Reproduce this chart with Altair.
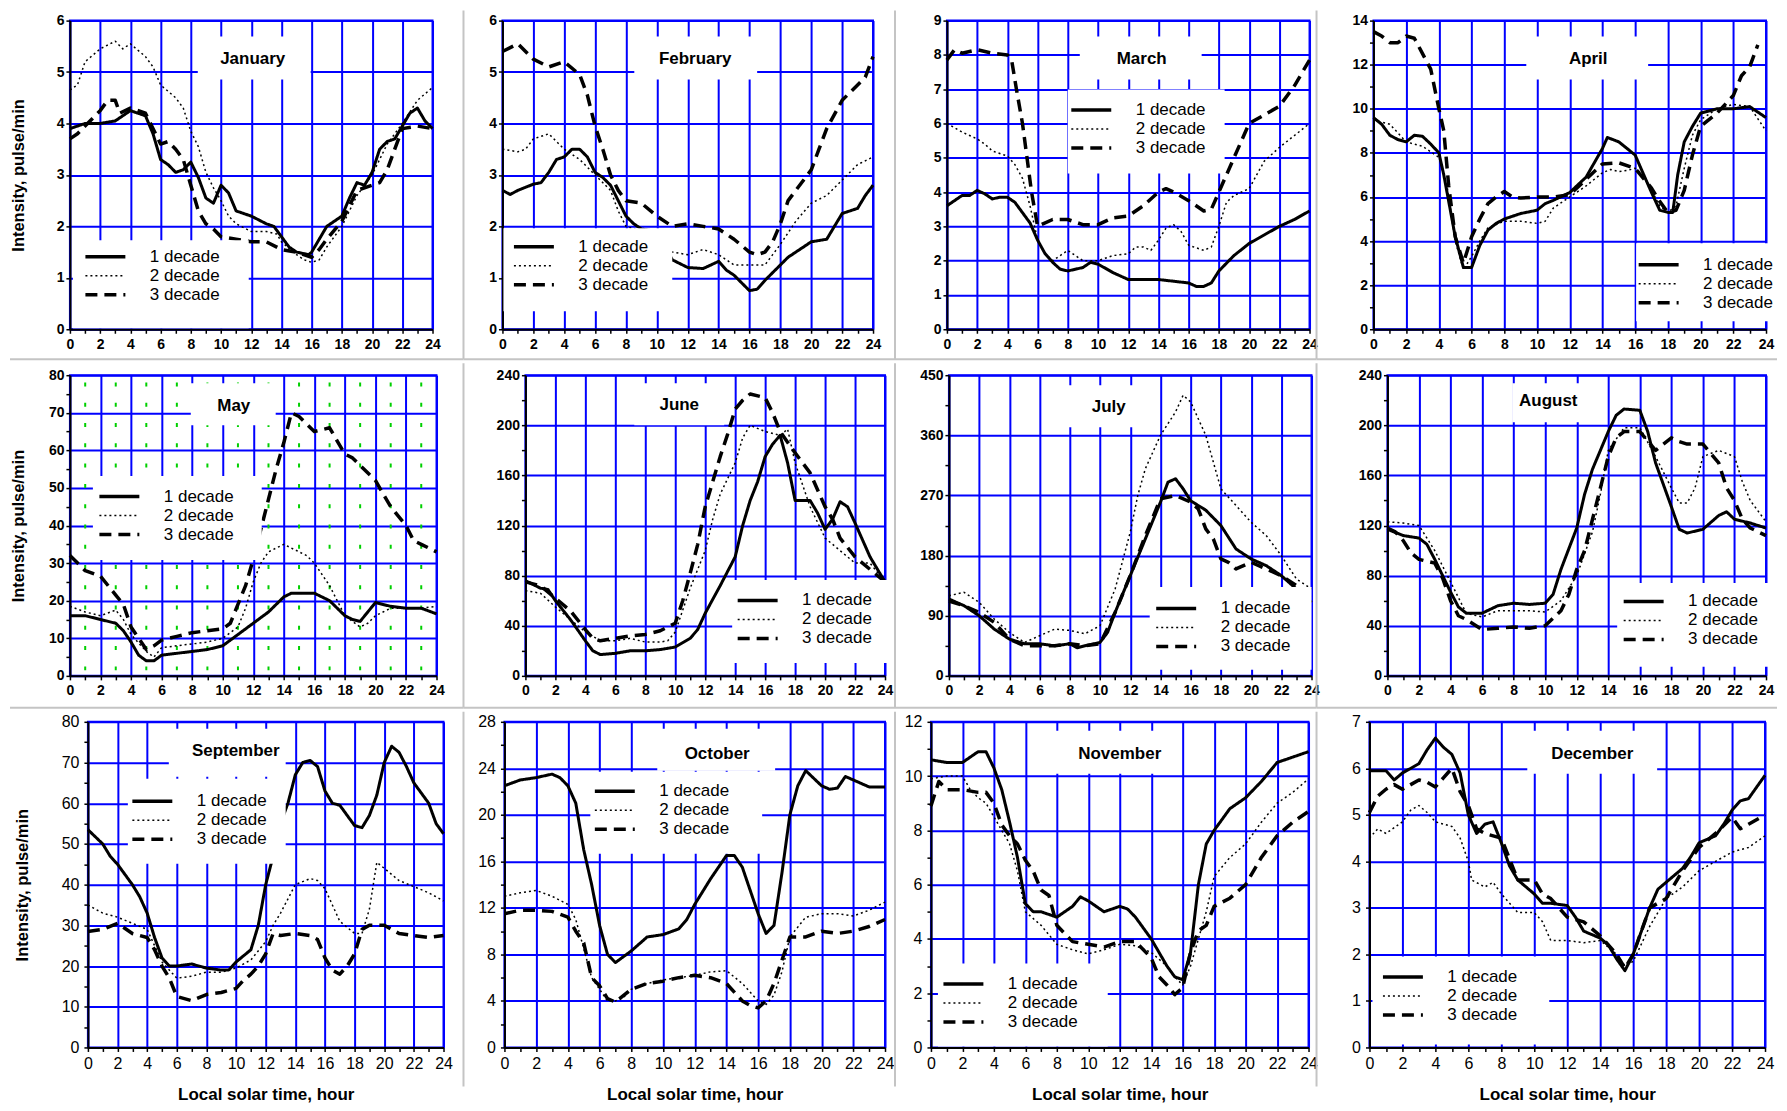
import altair as alt
import pandas as pd

FONT = "Liberation Sans"
BLUE = "#0000ff"
GREEN = "#00d000"
GRAY = "#c4c4c4"

MONTHS = ["January", "February", "March", "April", "May", "June",
          "July", "August", "September", "October", "November", "December"]
DECADES = ["1 decade", "2 decade", "3 decade"]
Y_TITLE = "Intensity, pulse/min"
X_TITLE = "Local solar time, hour"

Y_MAX = [6, 6, 9, 14, 80, 240, 450, 240, 80, 28, 12, 7]
Y_STEP = [1, 1, 1, 2, 10, 40, 90, 40, 10, 4, 2, 1]

# ---------------- data: [hour, intensity] ----------------
JAN_1 = [[0,3.9],[1,4.0],[2,4.0],[3,4.05],[4,4.25],[4.5,4.2],[5,4.15],[5.5,3.8],[6,3.3],[6.5,3.2],[7,3.05],[7.5,3.1],[8,3.25],[8.5,2.95],[9,2.55],[9.5,2.45],[10,2.8],[10.5,2.65],[11,2.3],[12,2.2],[13,2.05],[13.5,2.0],[14,1.8],[14.5,1.6],[15,1.5],[15.8,1.45],[16,1.5],[16.5,1.75],[17,2.0],[18,2.2],[18.5,2.55],[19,2.85],[19.5,2.8],[20,3.05],[20.5,3.5],[21,3.65],[21.5,3.7],[22,3.95],[22.5,4.2],[23,4.3],[23.5,4.05],[24,3.9]]
JAN_2 = [[0,4.65],[0.5,4.75],[1,5.2],[2,5.45],[3,5.6],[3.5,5.45],[4,5.55],[5,5.3],[5.5,5.1],[6,4.75],[7,4.5],[7.5,4.3],[8,3.85],[8.5,3.55],[9,3.05],[9.5,2.75],[10,2.5],[10.5,2.2],[11,2.05],[12,1.9],[13,1.9],[13.7,1.85],[14,1.7],[15,1.45],[15.5,1.35],[16,1.3],[16.5,1.35],[17,1.6],[18,2.0],[19,2.6],[20,3.0],[21,3.6],[22,4.0],[23,4.45],[24,4.7]]
JAN_3 = [[0,3.7],[0.5,3.8],[1,3.95],[2,4.25],[2.5,4.45],[3,4.45],[3.3,4.2],[4,4.3],[5,4.2],[6,3.6],[6.5,3.65],[7,3.5],[7.5,3.3],[8,2.8],[8.5,2.3],[9,2.05],[9.5,1.95],[10,1.8],[11,1.75],[12,1.7],[13,1.7],[14,1.55],[15,1.5],[16,1.4],[16.5,1.55],[17,1.75],[18,2.1],[19,2.7],[20,2.8],[20.5,2.85],[21,3.1],[21.5,3.5],[22,3.9],[23,3.95],[24,3.9]]

FEB_1 = [[0,2.7],[0.5,2.62],[1,2.7],[2,2.82],[2.5,2.85],[3,3.05],[3.5,3.3],[4,3.35],[4.5,3.5],[5,3.5],[5.5,3.35],[6,3.05],[6.5,2.95],[7,2.8],[7.5,2.5],[8,2.2],[8.5,2.05],[9,1.95],[10,1.9],[11,1.35],[12,1.2],[13,1.18],[14,1.32],[14.5,1.15],[15,1.05],[15.5,0.9],[16,0.75],[16.5,0.78],[17,0.95],[18,1.25],[18.5,1.4],[19,1.5],[20,1.7],[21,1.75],[21.5,2.0],[22,2.25],[23,2.35],[23.5,2.6],[24,2.8]]
FEB_2 = [[0,3.5],[1,3.45],[1.5,3.5],[2,3.7],[3,3.8],[3.5,3.65],[4,3.5],[5,3.3],[6,3.0],[7,2.7],[7.5,2.3],[8,2.0],[9,1.9],[10,1.6],[11,1.5],[12,1.45],[13,1.55],[14,1.45],[15,1.25],[16,1.25],[17,1.25],[17.5,1.45],[18,1.65],[19,2.1],[20,2.45],[21,2.6],[22,2.9],[23,3.2],[24,3.35]]
FEB_3 = [[0,5.4],[1,5.55],[2,5.25],[3,5.1],[4,5.2],[5,4.95],[5.5,4.55],[6,3.95],[6.5,3.5],[7,3.0],[7.5,2.7],[8,2.5],[9,2.45],[10,2.2],[11,2.0],[12,2.05],[13,2.0],[14,1.95],[15,1.75],[16,1.5],[16.5,1.45],[17,1.5],[17.5,1.7],[18,2.05],[18.5,2.5],[19,2.7],[20,3.1],[20.5,3.5],[21,3.9],[22,4.45],[23,4.75],[23.5,4.9],[24,5.3]]

MAR_1 = [[0,3.6],[0.5,3.75],[1,3.9],[1.5,3.9],[2,4.05],[2.5,3.95],[3,3.8],[3.5,3.85],[4,3.85],[4.5,3.7],[5,3.4],[5.5,3.1],[6,2.6],[6.5,2.2],[7,1.95],[7.5,1.75],[8,1.7],[8.5,1.75],[9,1.8],[9.5,1.95],[10,1.9],[11,1.65],[12,1.45],[13,1.45],[14,1.45],[15,1.4],[16,1.35],[16.5,1.25],[17,1.25],[17.5,1.35],[18,1.7],[19,2.15],[20,2.5],[21,2.75],[22,3.0],[23,3.2],[24,3.45]]
MAR_2 = [[0,6.0],[1,5.75],[2,5.55],[2.5,5.4],[3,5.2],[4,5.05],[4.5,4.8],[5,4.4],[5.5,3.6],[6,2.6],[6.5,2.2],[7,2.0],[7.5,2.15],[8,2.3],[8.5,2.15],[9,2.0],[10,2.0],[11,2.15],[12,2.2],[12.5,2.4],[13,2.4],[13.5,2.3],[14,2.6],[14.5,2.95],[15,3.05],[15.5,2.85],[16,2.45],[17,2.3],[17.5,2.4],[18,3.0],[18.5,3.7],[19,3.9],[20,4.1],[20.5,4.5],[21,4.9],[22,5.3],[23,5.65],[24,6.0]]
MAR_3 = [[0,7.85],[0.5,8.15],[1,8.05],[2,8.15],[3,8.05],[4,8.0],[4.3,7.8],[4.6,7.0],[5,6.0],[5.3,5.0],[5.6,4.0],[6,3.0],[7,3.2],[8,3.2],[9,3.05],[10,3.05],[11,3.25],[12,3.3],[13,3.6],[14,4.0],[14.5,4.1],[15,4.0],[16,3.75],[17,3.45],[17.5,3.5],[18,4.0],[18.5,4.5],[19,5.0],[20,6.0],[21,6.25],[22,6.5],[23,7.1],[24,7.85]]

APR_1 = [[0,9.6],[0.5,9.3],[1,8.8],[1.5,8.6],[2,8.5],[2.5,8.8],[3,8.75],[3.5,8.4],[4,8.0],[4.3,7.0],[4.6,5.8],[5,4.2],[5.5,2.8],[6,2.8],[6.5,3.8],[7,4.5],[7.5,4.8],[8,5.0],[9,5.25],[10,5.4],[10.5,5.7],[11,5.85],[12,6.2],[13,6.9],[14,8.2],[14.3,8.7],[15,8.5],[16,7.9],[17,6.2],[17.5,5.4],[18,5.3],[18.3,5.3],[18.6,7.0],[19,8.5],[19.5,9.2],[20,9.8],[21,10.0],[22,10.0],[23,10.1],[24,9.6]]
APR_2 = [[0,9.5],[1,9.3],[2,8.5],[3,8.3],[4,7.8],[4.5,6.5],[5,4.0],[5.5,2.7],[6,3.3],[6.5,4.0],[7,4.6],[8,4.9],[9,4.9],[10,4.8],[10.5,4.9],[11,5.5],[12,6.0],[13,6.5],[14,7.1],[14.5,7.25],[15,7.15],[15.5,7.2],[16,7.3],[16.5,7.0],[17,6.3],[17.5,5.6],[18,5.3],[18.5,5.6],[19,7.3],[19.5,8.8],[20,9.5],[21,10.0],[22,10.2],[23,10.1],[24,9.0]]
APR_3 = [[0,13.5],[0.5,13.3],[1,13.0],[1.5,13.0],[2,13.3],[2.5,13.2],[3,12.5],[3.5,11.8],[4,10.0],[4.3,9.0],[4.6,6.5],[5,4.2],[5.5,3.0],[6,4.2],[6.5,5.0],[7,5.7],[7.5,6.0],[8,6.25],[8.5,6.0],[9,5.95],[10,6.0],[11,6.0],[12,6.1],[13,6.8],[14,7.5],[15,7.55],[16,7.3],[17,6.4],[17.5,5.8],[18,5.3],[18.5,5.4],[19,6.3],[19.5,7.9],[20,9.2],[21,9.8],[22,10.6],[22.5,11.5],[23,11.9],[23.5,12.9]]

MAY_1 = [[0,16],[1,16],[2,15],[3,14],[3.5,12],[4,9],[4.5,5.5],[5,4],[5.5,4],[6,5.5],[7,6],[8,6.5],[9,7],[10,8],[11,11],[12,14],[13,17],[14,21],[14.5,22],[15,22],[16,22],[17,20],[18,16],[18.5,15],[19,14.5],[19.5,17],[20,19.5],[21,18.5],[22,18],[23,18],[24,16.5]]
MAY_2 = [[0,18.5],[1,17],[2,16],[3,17.5],[3.5,15],[4,11],[5,6.5],[5.5,5],[6,7.5],[7,8],[8,8.5],[9,9],[10,10],[11,13],[11.5,18],[12,25],[12.5,30],[13,33],[14,35],[15,33],[15.5,32],[16,30],[17,24],[17.5,20],[18,16],[19,13],[19.5,14],[20,16],[21,18],[22,18],[23,18],[24,18.5]]
MAY_3 = [[0,32],[0.5,30],[1,28],[2,26.5],[3,21.5],[3.5,19],[4,13],[4.5,10],[5,7],[5.5,8],[6,9.5],[7,10.5],[8,11.5],[9,12],[10,12.5],[10.5,14],[11,19],[11.5,24],[12,31],[12.5,39],[13,47],[13.5,55],[14,62],[14.5,70],[15,69],[15.5,67],[16,65],[17,66],[18,59],[18.5,58],[19,56],[20,52],[21,45],[22,40],[22.5,36],[23,35],[24,33]]

JUN_1 = [[0,76],[1,70],[1.5,69],[2,60],[3,45],[4,28],[4.5,20],[5,17],[6,18],[7,20],[8,20],[9,21],[10,23],[11,30],[11.5,37],[12,50],[13,72],[14,95],[14.5,120],[15,140],[15.5,155],[16,175],[16.5,185],[17,192],[17.5,170],[18,140],[19,140],[19.5,130],[20,117],[20.5,125],[21,139],[21.5,135],[22,122],[23,95],[24,75]]
JUN_2 = [[0,68],[1,66],[2,55],[3,45],[4,35],[5,28],[6,28],[7,30],[8,27],[9,27],[9.5,28],[10,35],[11,70],[12,100],[12.5,125],[13,145],[14,170],[14.5,190],[15,200],[16,195],[17,192],[17.5,197],[18,170],[19,135],[20,110],[21,100],[22,90],[23,90],[24,75]]
JUN_3 = [[0,75],[1,72],[2,62],[3,52],[4,37],[4.5,30],[5,28],[6,30],[7,32],[8,33],[9,36],[10,42],[10.5,60],[11,82],[11.5,105],[12,135],[12.5,155],[13,175],[13.5,193],[14,213],[14.5,220],[15,225],[16,222],[16.5,210],[17,195],[18,178],[19,162],[20,135],[20.5,125],[21,110],[22,95],[23,85],[24,75]]

JUL_1 = [[0,115],[1,105],[2,90],[3,70],[4,55],[5,48],[6,48],[7,45],[8,48],[8.5,42],[9,45],[10,50],[10.5,65],[11,95],[12,150],[13,205],[14,260],[14.5,290],[15,295],[15.5,280],[16,262],[17,248],[18,225],[19,190],[20,175],[21,165],[22,150],[23,130],[24,110]]
JUL_2 = [[0,120],[1,125],[2,110],[3,85],[4,65],[5,50],[6,60],[7,70],[8,68],[9,63],[10,75],[11,130],[12,215],[12.5,270],[13,310],[14,360],[15,395],[15.5,420],[16,410],[17,360],[18,280],[19,255],[20,230],[21,210],[22,180],[23,145],[24,130]]
JUL_3 = [[0,112],[1,105],[2,95],[3,80],[4,55],[5,45],[6,45],[7,45],[8,48],[9,45],[10,48],[11,95],[12,150],[13,210],[14,265],[15,270],[16,260],[16.5,250],[17,220],[17.5,205],[18,175],[18.5,170],[19,160],[20,170],[21,160],[22,150],[23,135],[24,115]]

AUG_1 = [[0,117],[1,112],[2,110],[2.5,105],[3,93],[4,67],[4.5,55],[5,50],[6,50],[7,56],[8,58],[9,57],[10,58],[10.5,65],[11,85],[12,118],[12.5,145],[13,165],[14,195],[14.5,208],[15,213],[16,212],[16.5,195],[17,170],[18,135],[18.5,117],[19,114],[20,117],[21,128],[21.5,131],[22,125],[23,122],[24,118]]
AUG_2 = [[0,123],[1,122],[2,120],[3,100],[4,75],[5,50],[6,47],[7,52],[8,52],[9,52],[10,51],[11,60],[12,80],[13,115],[13.5,145],[14,180],[15,198],[16,198],[17,175],[18,150],[18.5,138],[19,138],[19.5,150],[20,175],[21,180],[22,175],[22.5,155],[23,140],[24,123]]
AUG_3 = [[0,118],[0.5,115],[1,108],[1.5,98],[2,93],[3,90],[3.5,78],[4,60],[4.5,48],[5,45],[6,37],[7,38],[8,39],[9,38],[10,40],[11,52],[11.5,65],[12,85],[12.5,100],[13,125],[13.5,150],[14,175],[14.5,190],[15,195],[16,195],[17,180],[18,190],[18.5,187],[19,185],[20,185],[21,170],[21.5,150],[22,140],[22.5,125],[23,118],[24,112]]

SEP_1 = [[0,53.5],[1,50],[1.5,47],[2,45],[3,40],[3.5,37],[4,33],[4.5,27],[5,22],[5.5,20],[6,20],[7,20.5],[8,19.5],[9,19],[9.5,19],[10,21],[11,24],[11.5,30],[12,40],[12.5,47],[13,55],[13.5,60],[14,67],[14.5,70],[15,70.5],[15.5,69],[16,63],[16.5,60],[17,59.5],[18,54.5],[18.5,54],[19,57],[19.5,62],[20,70],[20.5,74],[21,72.5],[21.5,69],[22,65],[23,60],[23.5,55],[24,52.5]]
SEP_2 = [[0,35],[1,33],[2,32],[3,30.5],[4,29],[4.5,25],[5,21],[6,17],[7,17.5],[8,18.5],[9,18.5],[10,19.5],[11,21.5],[12,26],[12.5,30],[13,33],[14,40],[15,41.5],[15.5,41],[16,39],[16.5,35],[17,31],[18,28],[18.5,28],[19,34],[19.5,45.5],[20,44],[21,41],[22,39.5],[23,38],[24,36]]
SEP_3 = [[0,28.5],[1,29],[2,30.5],[3,28],[4,27],[4.5,24],[5,20],[5.5,17],[6,12.5],[7,11.5],[8,13],[9,13.5],[10,14.5],[10.5,16.5],[11,18],[11.5,20],[12,23],[12.5,28],[13,27.5],[14,28],[15,27.5],[15.5,26.5],[16,22],[16.5,19],[17,18],[17.5,20],[18,23],[18.5,29],[19,30],[20,30],[21,28],[22,27.5],[23,27],[24,27.5]]

OCT_1 = [[0,22.5],[1,23],[2,23.2],[3,23.5],[3.5,23.2],[4,22.5],[4.5,21],[5,17],[5.5,14],[6,10.5],[6.5,8],[7,7.3],[7.5,7.8],[8,8.3],[9,9.5],[10,9.7],[11,10.2],[11.5,11],[12,12.3],[13,14.5],[14,16.5],[14.5,16.5],[15,15.5],[15.5,13.5],[16,11.5],[16.5,9.8],[17,10.5],[17.5,15],[18,20],[18.5,22.5],[19,23.8],[20,22.5],[20.5,22.2],[21,22.3],[21.5,23.3],[22,23],[23,22.4],[24,22.4]]
OCT_2 = [[0,13],[1,13.3],[2,13.5],[3,13],[4,12.3],[4.5,11],[5,8.5],[5.5,6],[6,5],[6.5,4],[7,4],[7.5,4.3],[8,5],[9,5.5],[10,5.8],[11,6],[12,6.2],[13,6.5],[14,6.6],[15,5.5],[16,4],[16.5,3.7],[17,4.5],[17.5,6.5],[18,9.5],[19,11.2],[20,11.5],[21,11.5],[22,11.3],[23,11.8],[24,12.5]]
OCT_3 = [[0,11.5],[1,11.8],[2,11.8],[3,11.7],[4,11.2],[4.5,10],[5,9],[5.5,6],[6,5.3],[6.5,4.2],[7,3.9],[8,5],[9,5.5],[10,5.7],[11,6],[12,6.2],[13,6],[14,5.5],[15,4],[15.5,3.6],[16,3.4],[16.5,4],[17,5.5],[17.5,7.5],[18,9.5],[19,9.5],[20,10],[21,9.8],[22,10],[23,10.4],[24,11]]

NOV_1 = [[0,10.6],[1,10.5],[2,10.5],[2.5,10.7],[3,10.9],[3.5,10.9],[4,10.3],[4.5,9.5],[5,8.3],[5.5,7.0],[6,5.3],[6.5,5.0],[7,5.0],[8,4.8],[9,5.2],[9.5,5.55],[10,5.4],[11,5.0],[12,5.2],[12.5,5.1],[13,4.8],[14,4.0],[15,3.0],[15.5,2.6],[16,2.5],[16.5,3.5],[17,6.0],[17.5,7.5],[18,8.0],[19,8.8],[20,9.2],[21,9.8],[22,10.5],[23,10.7],[24,10.9]]
NOV_2 = [[0,9.9],[1,10.0],[2,10.0],[2.5,9.5],[3,9.2],[3.5,9.0],[4,8.5],[5,7.5],[5.5,6.5],[6,5.0],[7,4.5],[8,3.8],[9,3.6],[10,3.45],[11,3.6],[12,3.8],[13,3.75],[14,3.5],[15,3.0],[15.5,2.6],[16,2.3],[16.5,3.0],[17,4.0],[17.5,5.0],[18,6.3],[19,7.0],[20,7.5],[21,8.3],[22,9.0],[23,9.4],[24,9.9]]
NOV_3 = [[0,8.9],[0.5,9.8],[1,9.5],[2,9.5],[3,9.4],[3.5,9.4],[4,9.0],[4.5,8.2],[5,7.8],[5.5,7.5],[6,6.9],[6.5,6.5],[7,5.8],[7.5,5.6],[8,4.5],[9,3.9],[10,3.8],[11,3.7],[12,3.9],[13,3.9],[14,3.3],[14.5,2.6],[15,2.3],[15.5,1.95],[16,2.2],[16.5,3.5],[17,4.3],[17.5,4.5],[18,5.2],[19,5.5],[20,6.0],[21,7.0],[22,7.8],[23,8.3],[24,8.7]]

DEC_1 = [[0,5.95],[1,5.95],[1.5,5.75],[2,5.9],[3,6.1],[3.5,6.4],[4,6.65],[4.5,6.45],[5,6.3],[5.5,5.9],[6,5.0],[6.5,4.6],[7,4.8],[7.5,4.85],[8,4.4],[8.5,3.9],[9,3.6],[10,3.3],[10.5,3.1],[11,3.1],[12,3.05],[12.5,2.8],[13,2.5],[14,2.35],[14.5,2.2],[15,1.9],[15.5,1.65],[16,2.0],[16.5,2.5],[17,3.0],[17.5,3.4],[18,3.55],[19,3.85],[19.5,4.1],[20,4.4],[21,4.55],[21.5,4.8],[22,5.1],[22.5,5.3],[23,5.35],[23.5,5.6],[24,5.85]]
DEC_2 = [[0,4.5],[0.5,4.7],[1,4.6],[2,4.85],[2.5,5.1],[3,5.2],[3.5,5.05],[4,4.85],[4.5,4.8],[5,4.75],[5.5,4.5],[6,4.0],[6.2,3.6],[7,3.45],[7.5,3.55],[8,3.3],[9,2.9],[10,2.9],[10.5,2.7],[11,2.3],[12,2.3],[13,2.25],[14,2.3],[15,2.0],[15.5,1.75],[16,1.85],[17,2.6],[18,3.2],[19,3.45],[20,3.8],[21,4.0],[22,4.2],[23,4.3],[24,4.55]]
DEC_3 = [[0,5.05],[0.5,5.4],[1,5.55],[1.5,5.65],[2,5.55],[2.5,5.65],[3,5.75],[3.5,5.7],[4,5.6],[4.5,5.8],[5,6.0],[5.5,5.5],[6,5.2],[6.5,4.7],[7,4.6],[8,4.5],[9,3.6],[10,3.6],[10.5,3.3],[11,3.2],[12,2.8],[13,2.7],[14,2.4],[15,2.0],[15.5,1.7],[16,2.0],[17,3.0],[18,3.2],[19,3.8],[20,4.3],[21,4.6],[22,4.95],[22.5,4.7],[23,4.8],[24,5.0]]

SERIES = [
    [JAN_1, JAN_2, JAN_3], [FEB_1, FEB_2, FEB_3], [MAR_1, MAR_2, MAR_3], [APR_1, APR_2, APR_3],
    [MAY_1, MAY_2, MAY_3], [JUN_1, JUN_2, JUN_3], [JUL_1, JUL_2, JUL_3], [AUG_1, AUG_2, AUG_3],
    [SEP_1, SEP_2, SEP_3], [OCT_1, OCT_2, OCT_3], [NOV_1, NOV_2, NOV_3], [DEC_1, DEC_2, DEC_3],
]
ODD_HOURS = list(range(1, 24, 2))

# ---------------- layout (pixels) ----------------
ORIGIN = [(69, 19), (502, 19), (947, 19), (1374, 19),
          (69, 375), (525, 375), (949, 375), (1388, 375),
          (87, 723), (504, 723), (931, 723), (1370, 723)]
WIDTH = [363, 371, 363, 393, 367, 360, 363, 379, 356, 381, 378, 396]
ROW_H = [309, 301, 326]
LEAD = [1, 1, 19]
GAPS = [[70, 74, 64], [89, 64, 76], [61, 46, 61]]
TITLE_BOX = [(128, 241, 16, 59), (132, 255, 16, 59), (133, 255, 16, 59), (153, 275, 16, 59),
             (121, 206, 8, 50), (109, 199, 8, 50), (118, 206, 10, 52), (125, 215, 8, 47),
             (81, 198, 7, 55), (153, 271, 7, 49), (122, 247, 9, 52), (158, 288, 9, 52)]
TITLE_XY = [(183, 38), (193, 38), (195, 38), (215, 38), (164, 31), (154, 30), (160, 32), (161, 26),
            (148, 29), (213, 32), (189, 32), (223, 32)]
LEG_BOX = [(3, 179, 220, 308), (1, 170, 208, 291), (121, 278, 69, 153), (263, 405, 223, 301),
           (23, 192, 101, 185), (207, 370, 205, 288), (201, 363, 212, 295), (230, 382, 208, 292),
           (40, 198, 57, 142), (86, 258, 50, 132), (7, 177, 242, 325), (3, 180, 235, 323)]
LEG_XY = [(27, 228), (23, 218), (136, 81), (277, 236), (41, 113), (224, 217), (219, 225), (248, 218),
          (56, 71), (102, 61), (24, 254), (25, 247)]
SEP_X = [463, 895, 1317]
SEP_Y = [358, 708]
SEP_TOP = [9, 363, 713]
SEP_BOT = [358, 708, 1088]
SEP_LEFT = [9, 463, 895, 1317]
SEP_RIGHT = [463, 895, 1317, 1778]

DASHES = [[1, 0], [2, 3], [12, 7]]
WIDTHS = [3, 1.5, 3.5]


def make_panel(i):
    row, col = divmod(i, 4)
    ox, oy = ORIGIN[i]
    w, h = WIDTH[i], ROW_H[row]
    recs = []
    for name, sw, pts in zip(DECADES, WIDTHS, SERIES[i]):
        for hr, v in pts:
            recs.append({"hour": hr, "value": v, "decade": name, "sw": sw})
    df = pd.DataFrame(recs)
    one = pd.DataFrame({"m": [MONTHS[i]]})

    top = row < 2
    lab_size = 14 if top else 16
    lab_weight = "bold" if top else "normal"
    ymax, ystep = Y_MAX[i], Y_STEP[i]
    half = ystep / 2
    yvals = [round(k * half, 6) for k in range(int(round(ymax / half)) + 1)]

    common = dict(domainColor="black", domainWidth=2, tickColor="black", tickWidth=1.5,
                  tickSize=4, labelFont=FONT, labelFontSize=lab_size, labelFontWeight=lab_weight,
                  labelColor="black", gridColor=BLUE, gridWidth=2, labelOverlap=False,
                  labelFlush=False, labelBound=False, grid=True, format="d")
    xkw = dict(common, values=list(range(25)),
               labelExpr="datum.value % 2 == 0 ? datum.label : ''",
               gridOpacity={"condition": {"test": "datum.value % 2 == 0", "value": 1}, "value": 0},
               labelPadding=4, labelAngle=0)
    if row == 2:
        xkw.update(title=X_TITLE, titleFont=FONT, titleFontSize=17, titleFontWeight="bold",
                   titleColor="black", titlePadding=15)
    else:
        xkw["title"] = None
    test = f"datum.value % {ystep} == 0"
    ykw = dict(common, values=yvals,
               labelExpr=f"{test} ? datum.label : ''",
               gridOpacity={"condition": {"test": test, "value": 1}, "value": 0},
               labelPadding=2 if top else 5)
    if col == 0:
        ykw.update(title=Y_TITLE, titleFont=FONT, titleFontSize=16.5, titleFontWeight="bold",
                   titleColor="black", titleAngle=270, titleBaseline="bottom", titleAlign="center",
                   titleX=-57 if row == 2 else -43)
    else:
        ykw["title"] = None

    x_enc = alt.X("hour:Q", scale=alt.Scale(domain=[0, 24], nice=False), axis=alt.Axis(**xkw))
    y_enc = alt.Y("value:Q", scale=alt.Scale(domain=[0, ymax], nice=False), axis=alt.Axis(**ykw))

    lx, ly = LEG_XY[i]
    leg = alt.Legend(orient="none", legendX=lx, legendY=ly, title=None,
                     symbolType="M-2,0H2", symbolSize=400, symbolStrokeColor="black",
                     symbolStrokeWidth={"expr": "datum.value == '2 decade' ? 1.5 : 3.5"},
                     labelFont=FONT, labelFontSize=17, labelColor="black", labelOffset=36,
                     rowPadding=1, padding=0, labelBaseline="middle")

    layers = []
    lines = alt.Chart(df).mark_line(color="black", strokeCap="butt", strokeJoin="round").encode(
        x=x_enc, y=y_enc,
        strokeDash=alt.StrokeDash("decade:N", scale=alt.Scale(domain=DECADES, range=DASHES), legend=leg),
        strokeWidth=alt.StrokeWidth("sw:Q", scale=None),
    )
    if MONTHS[i] == "May":
        green = alt.Chart(pd.DataFrame({"hour": ODD_HOURS})).mark_rule(
            color=GREEN, strokeWidth=2, strokeDash=[4, 16.3], strokeDashOffset=13
        ).encode(x=x_enc)
        layers.append(green)
    layers.append(lines)

    for (x0, x1, y0, y1) in (TITLE_BOX[i], LEG_BOX[i]):
        layers.append(alt.Chart(one).mark_rect(fill="white", strokeWidth=0).encode(
            x=alt.value(x0), x2=alt.value(x1), y=alt.value(y0), y2=alt.value(y1)))
    tx, ty = TITLE_XY[i]
    layers.append(alt.Chart(one).mark_text(font=FONT, fontSize=17, fontWeight="bold", color="black",
                                           align="center", baseline="middle").encode(
        x=alt.value(tx), y=alt.value(ty), text="m:N"))

    # panel separators
    if col < 3:
        layers.append(alt.Chart(one).mark_rule(color=GRAY, strokeWidth=2).encode(
            x=alt.value(SEP_X[col] - ox), y=alt.value(SEP_TOP[row] - oy), y2=alt.value(SEP_BOT[row] - oy)))
    if row < 2:
        layers.append(alt.Chart(one).mark_rule(color=GRAY, strokeWidth=2).encode(
            y=alt.value(SEP_Y[row] - oy), x=alt.value(SEP_LEFT[col] - ox), x2=alt.value(SEP_RIGHT[col] - ox)))

    return alt.layer(*layers).properties(
        width=w, height=h, view=alt.ViewBackground(stroke=BLUE, strokeWidth=2))


def spacer(wd):
    return alt.Chart(pd.DataFrame({"s": [0]})).mark_point(opacity=0, size=1).properties(
        width=wd, height=1, view=alt.ViewBackground(stroke="transparent"))


rows = []
for r in range(3):
    cells = [spacer(LEAD[r])]
    for c in range(4):
        cells.append(make_panel(r * 4 + c))
        if c < 3:
            cells.append(spacer(GAPS[r][c]))
    rows.append(alt.hconcat(*cells, spacing=0, bounds="flush").resolve_scale(
        strokeDash="independent").resolve_legend(strokeDash="independent"))

chart = alt.vconcat(*rows, spacing=0).resolve_scale(
    strokeDash="independent"
).resolve_legend(strokeDash="independent").properties(
    padding={"left": 0, "top": 0, "right": 0, "bottom": 0}, background="white")

chart.save("out.html", embed_options={"renderer": "svg", "actions": False})
